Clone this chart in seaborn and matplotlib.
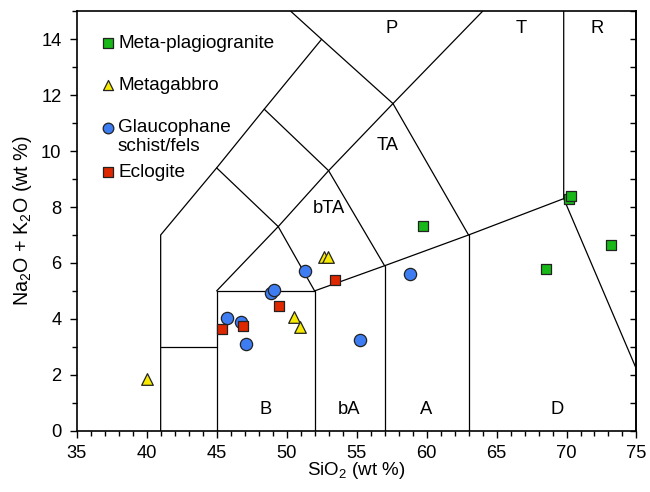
import matplotlib
matplotlib.use("Agg")
import matplotlib.pyplot as plt
import numpy as np
import pandas as pd
import seaborn as sns
from matplotlib.ticker import MultipleLocator, NullFormatter

# Sample compositions (SiO2, total alkalis), wt %
plag_sio2 = [70.19, 59.71, 68.50, 70.29, 73.16]
plag_alk = [8.28, 7.31, 5.77, 8.39, 6.63]

gabbro_sio2 = [40.02, 50.50, 50.97, 52.66, 52.95]
gabbro_alk = [1.85, 4.06, 3.70, 6.22, 6.22]

glauc_sio2 = [51.31, 48.90, 49.09, 45.76, 46.76, 47.09, 55.21, 58.83]
glauc_alk = [5.71, 4.94, 5.03, 4.02, 3.89, 3.10, 3.25, 5.59]

eclog_sio2 = [45.40, 46.88, 49.43, 53.43]
eclog_alk = [3.63, 3.73, 4.47, 5.39]

groups = ["Glaucophane schist/fels", "Eclogite", "Metagabbro", "Meta-plagiogranite"]
legend_labels = ["Meta-plagiogranite", "Metagabbro", "Glaucophane\nschist/fels", "Eclogite"]

# TAS classification field boundaries
tas_lines = [
    [(41, 0), (41, 7), (45, 9.4), (48.4, 11.5), (52.5, 14), (50.3, 15)],
    [(41, 3), (45, 3)],
    [(45, 0), (45, 5), (52, 5), (52, 0)],
    [(45, 5), (49.4, 7.3), (53, 9.3), (57.6, 11.7), (64.0, 15)],
    [(45, 9.4), (49.4, 7.3), (52, 5)],
    [(48.4, 11.5), (53, 9.3), (57, 5.9)],
    [(52.5, 14), (57.6, 11.7), (63, 7)],
    [(52, 5), (57, 5.9), (63, 7), (69.8, 8.3)],
    [(57, 0), (57, 5.9)],
    [(63, 0), (63, 7)],
    [(69.8, 15), (69.8, 8.3), (75, 2.2)],
]
field_labels = ["P", "T", "R", "TA", "bTA", "B", "bA", "A", "D"]
field_pos = [(57.5, 14.4), (66.75, 14.4), (72.2, 14.4), (57.2, 10.2),
             (53.0, 7.95), (48.5, 0.75), (54.45, 0.75), (60.0, 0.75), (69.3, 0.75)]

sns.set_theme(style="ticks")
plt.rcParams["font.family"] = ["Liberation Sans", "DejaVu Sans"]
plt.rcParams["mathtext.fontset"] = "custom"
plt.rcParams["mathtext.rm"] = "Liberation Sans"
plt.rcParams["mathtext.it"] = "Liberation Sans:italic"
plt.rcParams["text.color"] = "black"
plt.rcParams["axes.labelcolor"] = "black"
plt.rcParams["xtick.color"] = "black"
plt.rcParams["ytick.color"] = "black"

df = pd.concat([
    pd.DataFrame({"SiO2": glauc_sio2, "alk": glauc_alk, "group": groups[0]}),
    pd.DataFrame({"SiO2": eclog_sio2, "alk": eclog_alk, "group": groups[1]}),
    pd.DataFrame({"SiO2": gabbro_sio2, "alk": gabbro_alk, "group": groups[2]}),
    pd.DataFrame({"SiO2": plag_sio2, "alk": plag_alk, "group": groups[3]}),
], ignore_index=True)

styles = {
    "Meta-plagiogranite": dict(marker="s", color="#18b818", s=62),
    "Metagabbro": dict(marker="^", color="#f7ea00", s=70),
    "Glaucophane schist/fels": dict(marker="o", color="#3e7cf2", s=78),
    "Eclogite": dict(marker="s", color="#e02800", s=62),
}

fig = plt.figure(figsize=(6.5, 4.92), dpi=100)
ax = fig.add_axes([0.118, 0.1246, 0.8612, 0.8524])

for (xs, ys) in [list(zip(*seg)) for seg in tas_lines]:
    ax.plot(xs, ys, color="black", lw=0.9, zorder=1, solid_joinstyle="miter")

for g in groups:
    st = styles[g]
    sns.scatterplot(data=df[df["group"] == g], x="SiO2", y="alk", ax=ax,
                    marker=st["marker"], color=st["color"], s=st["s"],
                    edgecolor="#222222", linewidth=0.9, zorder=3, legend=False)

for lab, (x, y) in zip(field_labels, field_pos):
    ax.text(x, y, lab, ha="center", va="center", fontsize=13.2, color="black")

# Legend drawn as a plain list of markers and labels
leg_y = [0.9244, 0.8243, 0.7218, 0.6168]
leg_keys = ["Meta-plagiogranite", "Metagabbro", "Glaucophane schist/fels", "Eclogite"]
for key, lab, y in zip(leg_keys, legend_labels, leg_y):
    st = styles[key]
    ax.scatter([0.0559], [y], transform=ax.transAxes, marker=st["marker"],
               color=st["color"], s=st["s"] * 0.75, edgecolor="#222222",
               linewidth=0.9, zorder=4, clip_on=False)
    lines = lab.split("\n")
    for i, ln in enumerate(lines):
        ax.text(0.0738, y - i * 0.0453, ln, transform=ax.transAxes,
                ha="left", va="center", fontsize=13.7, color="black")

ax.set_xlim(35, 75)
ax.set_ylim(0, 15)
ax.xaxis.set_major_locator(MultipleLocator(5))
ax.xaxis.set_minor_locator(MultipleLocator(1))
ax.yaxis.set_major_locator(MultipleLocator(2))
ax.yaxis.set_minor_locator(MultipleLocator(1))
ax.tick_params(axis="both", which="both", direction="out", color="black",
               labelcolor="black", width=1.0)
ax.tick_params(axis="both", which="major", length=5, labelsize=13.2)
ax.tick_params(axis="x", which="major", pad=5)
ax.tick_params(axis="y", which="major", pad=6)
ax.tick_params(axis="both", which="minor", length=3.5)
ax.tick_params(axis="y", which="both", right=False)

# inward ticks along the right frame
sec = ax.secondary_yaxis("right")
sec.yaxis.set_major_locator(MultipleLocator(1))
sec.yaxis.set_major_formatter(NullFormatter())
sec.tick_params(direction="in", length=4, width=1.0, color="black")
sec.spines["right"].set_linewidth(1.2)
sec.spines["right"].set_color("black")

for sp in ax.spines.values():
    sp.set_visible(True)
    sp.set_color("black")
    sp.set_linewidth(1.2)

ax.set_xlabel(r"SiO$_2$ (wt %)", fontsize=13.5, labelpad=-1, color="black")
ax.set_ylabel(r"Na$_2$O + K$_2$O (wt %)", fontsize=14.2, labelpad=5, color="black")

fig.savefig("out.png", dpi=100)
